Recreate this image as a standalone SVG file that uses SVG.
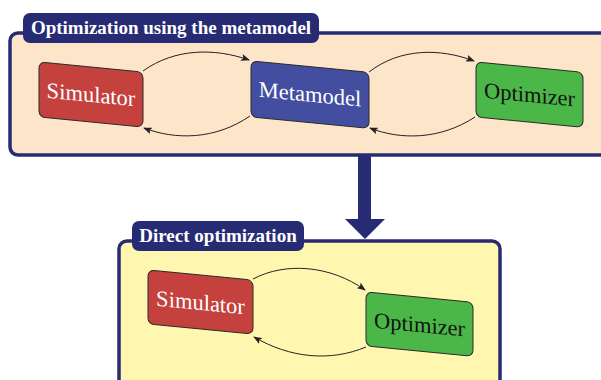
<svg xmlns="http://www.w3.org/2000/svg" width="601" height="380" viewBox="0 0 601 380" font-family="Liberation Serif, serif">
<style>
.panel{stroke:#262b73;stroke-width:3.5}
.tab{fill:#262b73}
.title{font-family:'Liberation Serif',serif;font-weight:bold;font-size:19px;fill:#fff;text-anchor:middle}
.node rect{stroke:#2a2a2a;stroke-width:1}
.node text{font-family:'Liberation Serif',serif;font-size:22.5px;text-anchor:middle}
.conn{fill:none;stroke:#222;stroke-width:1;marker-end:url(#ah)}
</style>
<defs>
<marker id="ah" markerWidth="9" markerHeight="7" refX="8" refY="3.5" orient="auto" markerUnits="userSpaceOnUse">
<path d="M0,0 L9,3.5 L0,7 L2,3.5 z" fill="#222"/>
</marker>
</defs>
<rect width="601" height="380" fill="#fff"/>
<g id="panel-top">
<rect class="panel" x="10" y="33" width="620" height="122" rx="8" fill="#fde5c9"/>
<rect class="tab" x="23" y="13" width="296" height="30" rx="7"/>
<text class="title" x="171" y="34" font-family="Liberation Serif, serif">Optimization using the metamodel</text>
</g>
<g id="panel-bottom">
<rect class="panel" x="119" y="241" width="381" height="160" rx="8" fill="#fff6b0"/>
<rect class="tab" x="132" y="221" width="172" height="30" rx="7"/>
<text class="title" x="218" y="242" font-family="Liberation Serif, serif">Direct optimization</text>
</g>
<g id="big-arrow">
<polygon points="358,155 371,155 371,219 385,219 365,239 345,219 358,219" fill="#262b73"/>
</g>
<g id="sim1" class="node" transform="translate(39,62) skewY(5.5)">
<rect width="104" height="55" rx="6" fill="#c4413e"/>
<text x="52" y="35" fill="#fff" font-family="Liberation Serif, serif">Simulator</text>
</g>
<g id="meta" class="node" transform="translate(251,61) skewY(5.5)">
<rect width="118" height="56" rx="6" fill="#434ea0"/>
<text x="59" y="35" fill="#fff" font-family="Liberation Serif, serif">Metamodel</text>
</g>
<g id="opt1" class="node" transform="translate(476,62) skewY(5.5)">
<rect width="107" height="55" rx="6" fill="#4bb749"/>
<text x="53.5" y="35" fill="#111" font-family="Liberation Serif, serif">Optimizer</text>
</g>
<g id="sim2" class="node" transform="translate(148,270) skewY(5.5)">
<rect width="105" height="54" rx="6" fill="#c4413e"/>
<text x="52.5" y="35" fill="#fff" font-family="Liberation Serif, serif">Simulator</text>
</g>
<g id="opt2" class="node" transform="translate(366,292) skewY(5.5)">
<rect width="107" height="54" rx="6" fill="#4bb749"/>
<text x="53.5" y="35" fill="#111" font-family="Liberation Serif, serif">Optimizer</text>
</g>
<g id="connectors">
<path class="conn" d="M143,71 C175,48 215,48 249,60"/>
<path class="conn" d="M250,116 C215,140 175,140 144,128"/>
<path class="conn" d="M369,72 C400,48 440,48 474,61"/>
<path class="conn" d="M475,117 C440,140 400,140 370,128"/>
<path class="conn" d="M253,279 C285,262 330,265 365,290"/>
<path class="conn" d="M366,347 C330,362 290,358 254,337"/>
</g>
</svg>
